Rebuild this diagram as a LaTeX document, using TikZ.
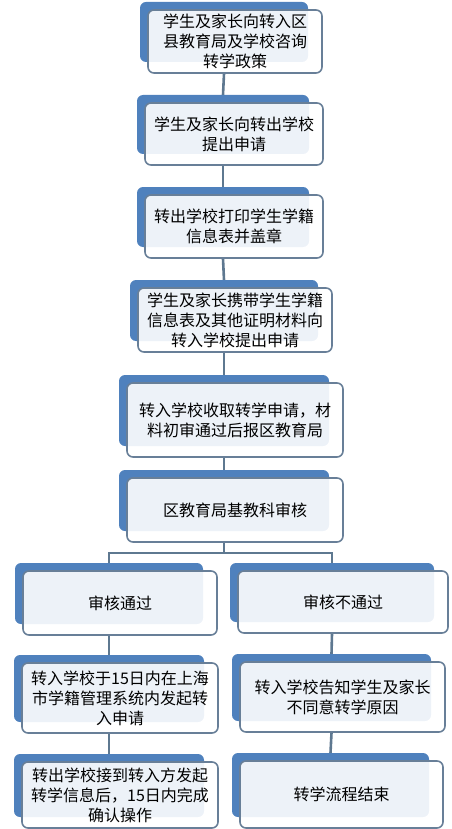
\documentclass[tikz,border=0pt]{standalone}
\usepackage{fontspec}
\setmainfont{Noto Sans CJK SC}
\usetikzlibrary{backgrounds}

\definecolor{backblue}{HTML}{4F81BD}
\definecolor{rimgray}{HTML}{687F98}
\definecolor{linkgray}{HTML}{5E7890}

\tikzset{
  front/.style={draw=rimgray, line width=1.6pt, rounded corners=6pt,
    fill=white, fill opacity=0.9, text opacity=1, align=center,
    inner sep=0pt, font=\fontsize{16}{20}\selectfont},
  back/.style={fill=backblue, rounded corners=6pt, inner sep=0pt},
  link/.style={draw=linkgray, line width=2.6pt}
}

\begin{document}
\begin{tikzpicture}[x=1pt,y=-1pt]
\useasboundingbox (0,0) rectangle (451,829);

% back plates
\node[back, minimum width=168pt, minimum height=60pt] (s1b) at (224,32) {};
\node[back, minimum width=172pt, minimum height=59pt] (s2b) at (223,124.5) {};
\node[back, minimum width=172pt, minimum height=60pt] (s3b) at (223,217) {};
\node[back, minimum width=188pt, minimum height=61pt] (s4b) at (224,310.5) {};
\node[back, minimum width=210pt, minimum height=71pt] (s5b) at (224,410.5) {};
\node[back, minimum width=210pt, minimum height=61pt] (s6b) at (224,500.5) {};
\node[back, minimum width=188pt, minimum height=61pt] (l1b) at (109,593.5) {};
\node[back, minimum width=204pt, minimum height=59pt] (r1b) at (332,592.5) {};
\node[back, minimum width=190pt, minimum height=67pt] (l2b) at (109,688.5) {};
\node[back, minimum width=199pt, minimum height=67pt] (r2b) at (331.5,687.5) {};
\node[back, minimum width=190pt, minimum height=63pt] (l3b) at (109,785.5) {};
\node[back, minimum width=197pt, minimum height=64pt] (r3b) at (330.5,785) {};

% front boxes
\node[front, minimum width=174pt, minimum height=63pt] (s1) at (235,41.5) {学生及家长向转入区\\县教育局及学校咨询\\转学政策};
\node[front, minimum width=178pt, minimum height=62pt] (s2) at (234,134) {学生及家长向转出学校\\提出申请};
\node[front, minimum width=178pt, minimum height=63pt] (s3) at (234,226.5) {转出学校打印学生学籍\\信息表并盖章};
\node[front, minimum width=194pt, minimum height=64pt] (s4) at (235,320) {学生及家长携带学生学籍\\信息表及其他证明材料向\\转入学校提出申请};
\node[front, minimum width=216pt, minimum height=74pt] (s5) at (235,420) {转入学校收取转学申请，材\\料初审通过后报区教育局};
\node[front, minimum width=216pt, minimum height=64pt] (s6) at (235,510) {区教育局基教科审核};
\node[front, minimum width=194pt, minimum height=64pt] (l1) at (120,603) {审核通过};
\node[front, minimum width=210pt, minimum height=62pt] (r1) at (343,602) {审核不通过};
\node[front, minimum width=196pt, minimum height=70pt] (l2) at (120,698) {转入学校于15日内在上海\\市学籍管理系统内发起转\\入申请};
\node[front, minimum width=205pt, minimum height=70pt] (r2) at (342.5,697) {转入学校告知学生及家长\\不同意转学原因};
\node[front, minimum width=196pt, minimum height=66pt] (l3) at (120,795) {转出学校接到转入方发起\\转学信息后，15日内完成\\确认操作};
\node[front, minimum width=203pt, minimum height=67pt] (r3) at (341.5,794.5) {转学流程结束};

% connectors
\begin{scope}[on background layer]
\draw[link] (s1b.south |- s1.south) -- (s2b.north);
\draw[link] (s2b.south |- s2.south) -- (s3b.north);
\draw[link] (s3b.south |- s3.south) -- (s4b.north);
\draw[link] (s4b.south |- s4.south) -- (s5b.north);
\draw[link] (s5b.south |- s5.south) -- (s6b.north);
\draw[link] (s6b.south |- s6.south) -- ++(0,10) coordinate (fork);
\draw[link] (l1b.north) |- (fork) -| (r1b.north);
\draw[link] (l1b.south |- l1.south) -- (l2b.north);
\draw[link] (r1b.south |- r1.south) -- (r2b.north);
\draw[link] (l2b.south |- l2.south) -- (l3b.north);
\draw[link] (r2b.south |- r2.south) -- (r3b.north);
\end{scope}

\end{tikzpicture}
\end{document}
